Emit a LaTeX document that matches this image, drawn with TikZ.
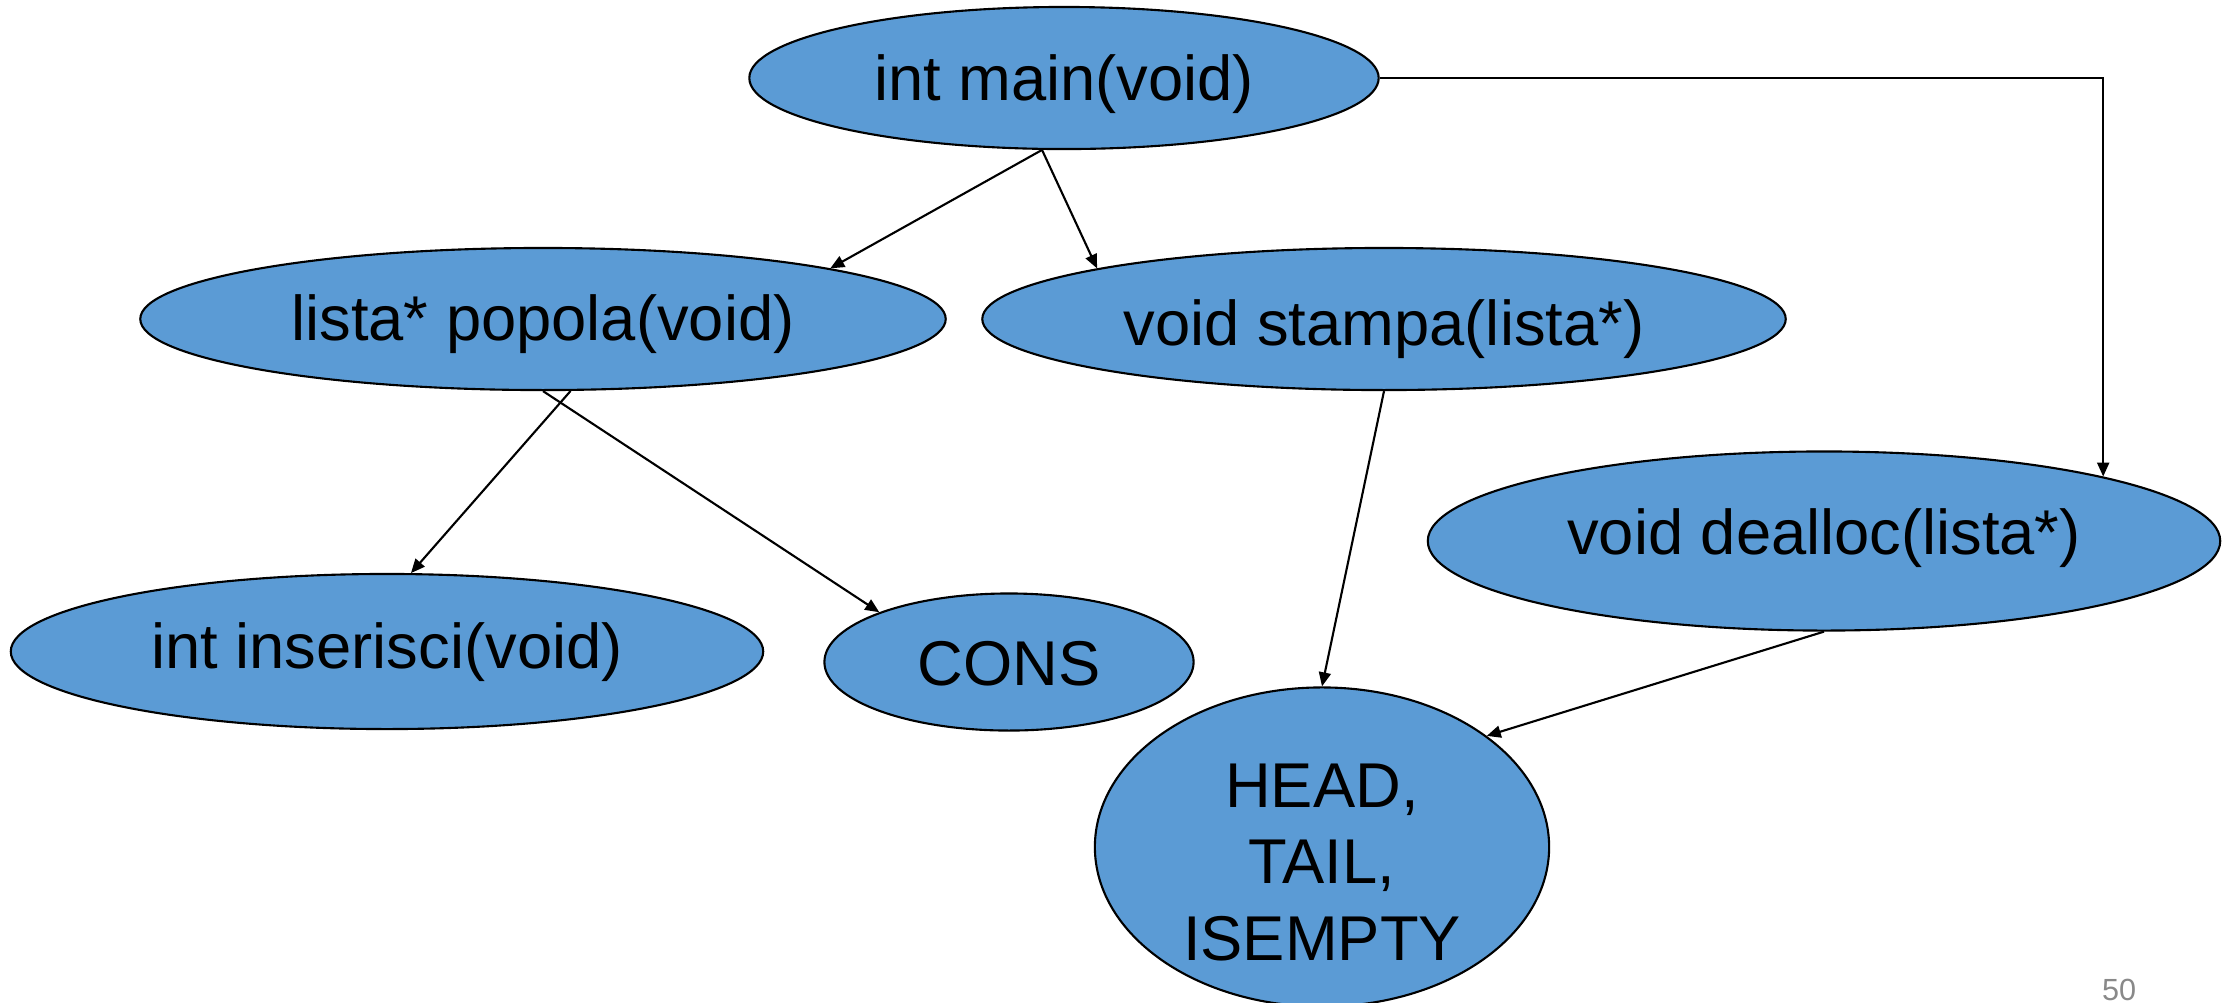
\documentclass[tikz,border=0pt]{standalone}
\usepackage{fontspec}
\setmainfont{Liberation Sans}
\usetikzlibrary{arrows.meta,shapes.geometric}
\definecolor{fnfill}{RGB}{91,155,213}
\definecolor{pagegray}{RGB}{137,137,137}
\begin{document}
\begin{tikzpicture}[x=0.01cm,y=-0.01cm,
  fn/.style={ellipse,draw=black,line width=0.6pt,fill=fnfill,inner sep=0pt,
    font=\fontsize{18}{21.7}\selectfont,text depth=0.16cm},
  arr/.style={line width=0.6pt,-{Triangle[length=0.14cm,width=0.12cm]}}]
\useasboundingbox (0,0) rectangle (2233,1002);
% function nodes of the call graph
\node[fn,minimum width=6.29cm,minimum height=1.42cm,text height=0.60cm]
  (main) at (1064,78) {int main(void)};
\node[fn,minimum width=8.05cm,minimum height=1.42cm,text height=0.594cm]
  (popola) at (543,319) {lista* popola(void)};
\node[fn,minimum width=8.03cm,minimum height=1.42cm,text height=0.68cm]
  (stampa) at (1384,319) {void stampa(lista*)};
\node[fn,minimum width=7.92cm,minimum height=1.79cm,text height=0.42cm]
  (dealloc) at (1824,541) {void dealloc(lista*)};
\node[fn,minimum width=7.52cm,minimum height=1.55cm,text height=0.49cm]
  (inserisci) at (387,651.5) {int inserisci(void)};
\node[fn,minimum width=3.69cm,minimum height=1.37cm,text height=0.62cm]
  (cons) at (1009,662) {CONS};
% three-line node: its box baseline is that of the last line
\node[fn,minimum width=4.54cm,minimum height=3.19cm,align=center,
  text height=2.36cm,text depth=0.10cm,inner ysep=-0.2cm]
  (head) at (1322,847) {HEAD,\\TAIL,\\ISEMPTY};
% calls
\draw[arr] (main.253) -- (popola.10);
\draw[arr] (main.253) -- (stampa.170);
\draw[arr] (main.east) -| (dealloc.13.6);
\draw[arr] (popola.291.5) -- (inserisci.73.5);
\draw[arr] (popola.south) -- (cons.159);
\draw[arr] (stampa.south) -- (head.north);
\draw[arr] (dealloc.south) -- (head.34.5);
% page number
\node[anchor=base,text=pagegray,font=\fontsize{8.7}{10}\selectfont,inner sep=0pt]
  (pagenum) at (2119,1000) {50};
\end{tikzpicture}
\end{document}
